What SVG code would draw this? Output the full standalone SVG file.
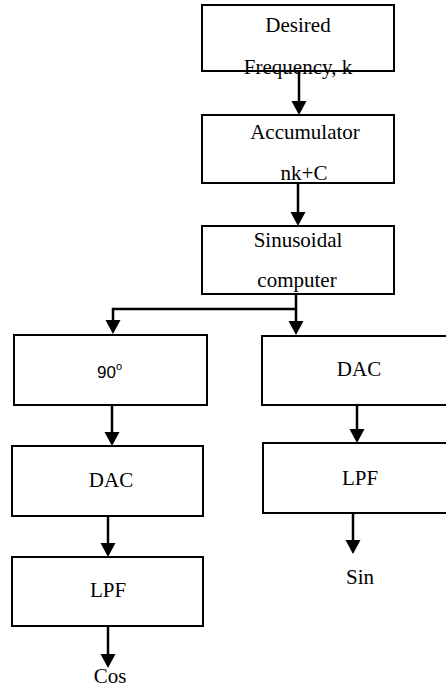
<svg xmlns="http://www.w3.org/2000/svg" width="446" height="688" viewBox="0 0 446 688">
<style>
.box{fill:#fff;stroke:#000;stroke-width:2}
.t{font-family:"Liberation Serif","Times New Roman",serif;font-size:21px;fill:#000;text-anchor:middle}
.s{font-family:"Liberation Sans",Arial,sans-serif;fill:#000}
.c{fill:none;stroke:#000;stroke-width:2.5}
</style>
<defs>
<marker id="ah" markerUnits="userSpaceOnUse" markerWidth="15" markerHeight="16" refX="0" refY="7.5" orient="auto" overflow="visible">
<path d="M0,0 L14,7.5 L0,15 Z" fill="#000"/>
</marker>
</defs>
<rect width="446" height="688" fill="#fff"/>
<g id="n-desired"><rect class="box" x="202" y="5" width="192" height="66"/><text class="t" x="298" y="32">Desired</text><text class="t" x="298" y="74">Frequency, k</text></g>
<g id="n-accum"><rect class="box" x="202" y="115" width="192" height="68"/><text class="t" x="305" y="139">Accumulator</text><text class="t" x="304" y="180">nk+C</text></g>
<g id="n-sin"><rect class="box" x="202" y="226" width="192" height="68"/><text class="t" x="298" y="247">Sinusoidal</text><text class="t" x="297" y="287">computer</text></g>
<g id="n-90"><rect class="box" x="14" y="335" width="193" height="70"/><text class="s" x="97" y="378" font-size="17">90</text><text class="s" x="116" y="370" font-size="11">o</text></g>
<g id="n-dacL"><rect class="box" x="12" y="446" width="191" height="70"/><text class="t" x="111" y="487">DAC</text></g>
<g id="n-lpfL"><rect class="box" x="12" y="557" width="191" height="69"/><text class="t" x="108" y="597">LPF</text></g>
<g id="n-dacR"><rect class="box" x="262" y="336" width="190" height="69"/><text class="t" x="359" y="376">DAC</text></g>
<g id="n-lpfR"><rect class="box" x="263" y="443" width="190" height="70"/><text class="t" x="360" y="485">LPF</text></g>
<g id="n-cos"><text class="t" x="110" y="683">Cos</text></g>
<g id="n-sinout"><text class="t" x="360" y="584">Sin</text></g>
<g id="connectors">
<path class="c" d="M299,71 V101" marker-end="url(#ah)"/>
<path class="c" d="M298,183 V212" marker-end="url(#ah)"/>
<path class="c" d="M296,294 V321" marker-end="url(#ah)"/>
<path class="c" d="M296,309 H113 V320" marker-end="url(#ah)"/>
<path class="c" d="M112,405 V432" marker-end="url(#ah)"/>
<path class="c" d="M108,516 V543" marker-end="url(#ah)"/>
<path class="c" d="M108,626 V654" marker-end="url(#ah)"/>
<path class="c" d="M357,405 V429" marker-end="url(#ah)"/>
<path class="c" d="M353,513 V540" marker-end="url(#ah)"/>
</g>
</svg>
